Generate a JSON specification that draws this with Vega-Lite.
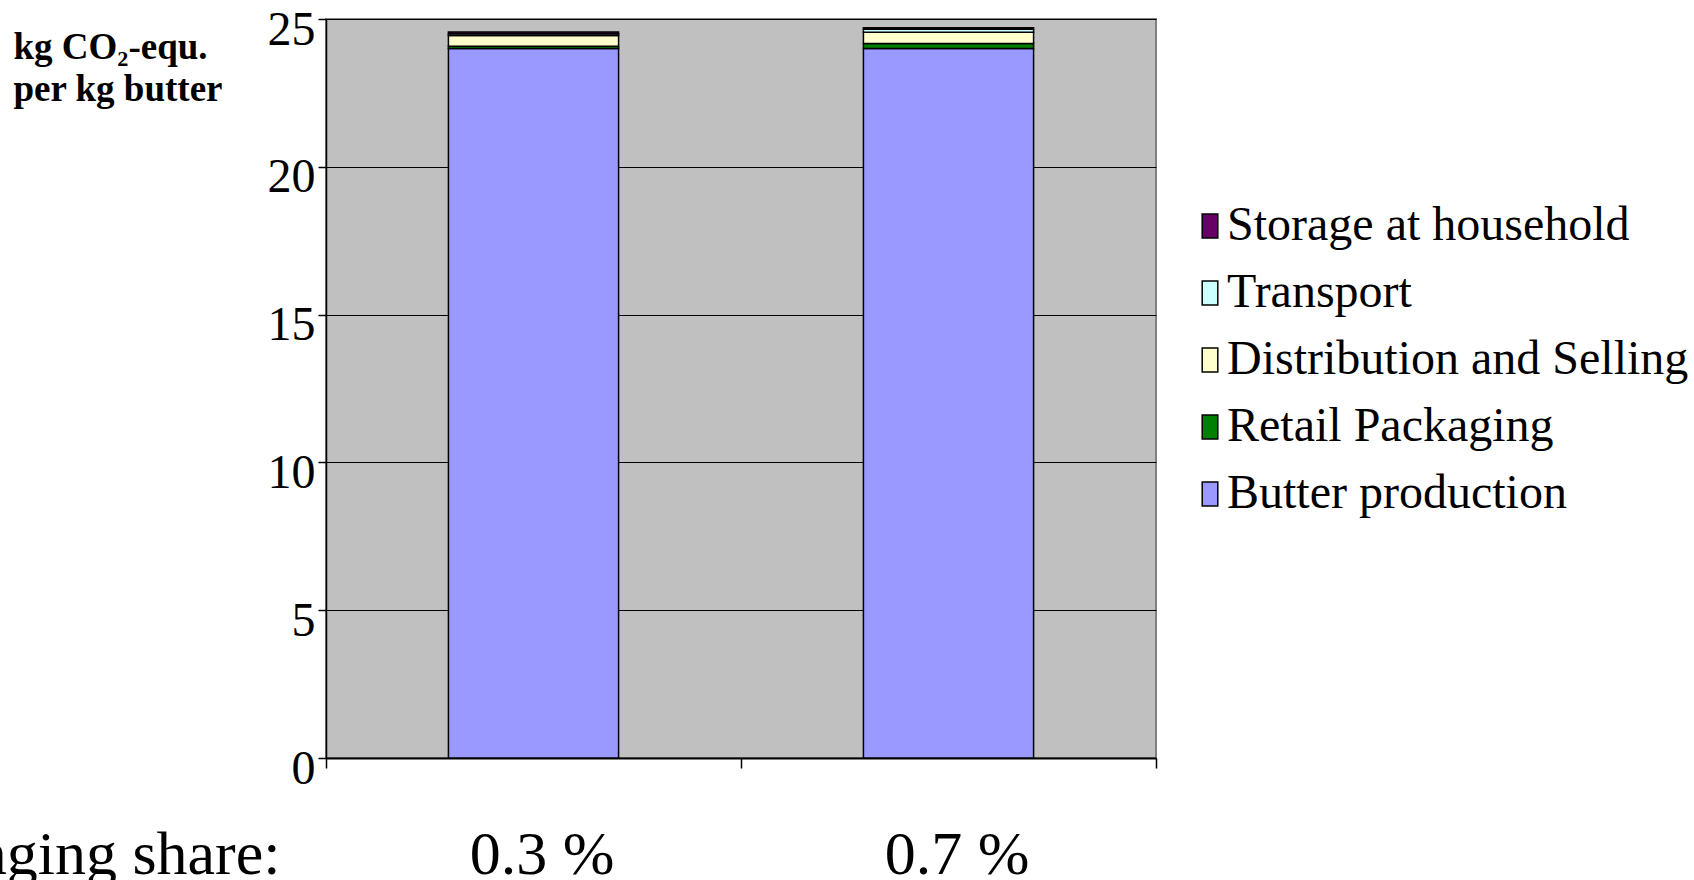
{
  "$schema": "https://vega.github.io/schema/vega-lite/v6.json",
  "autosize": "none",
  "padding": {"left": 326, "top": 19, "right": 538, "bottom": 122},
  "width": 830,
  "height": 739,
  "background": "white",
  "config": {
    "view": {"fill": "#C0C0C0", "stroke": "#808080", "strokeWidth": 2},
    "font": "Liberation Serif"
  },
  "data": {
    "values": [
      {"share": "0.3 %", "stage": 1, "component": "Butter production", "value": 24.0},
      {"share": "0.3 %", "stage": 2, "component": "Retail Packaging", "value": 0.074},
      {"share": "0.3 %", "stage": 3, "component": "Distribution and Selling", "value": 0.37},
      {"share": "0.3 %", "stage": 4, "component": "Transport", "value": 0.06},
      {"share": "0.3 %", "stage": 5, "component": "Storage at household", "value": 0.06},
      {"share": "0.7 %", "stage": 1, "component": "Butter production", "value": 24.0},
      {"share": "0.7 %", "stage": 2, "component": "Retail Packaging", "value": 0.17},
      {"share": "0.7 %", "stage": 3, "component": "Distribution and Selling", "value": 0.38},
      {"share": "0.7 %", "stage": 4, "component": "Transport", "value": 0.1},
      {"share": "0.7 %", "stage": 5, "component": "Storage at household", "value": 0.05}
    ]
  },
  "mark": {"type": "bar", "stroke": "black", "strokeWidth": 1.5, "width": {"band": 0.41}, "opacity": 1},
  "encoding": {
    "x": {
      "field": "share",
      "type": "nominal",
      "sort": ["0.3 %", "0.7 %"],
      "scale": {"paddingInner": 0, "paddingOuter": 0},
      "axis": {
        "title": "Packaging share:",
        "titleFont": "Liberation Serif",
        "titleFontSize": 62,
        "titleFontWeight": "normal",
        "titleColor": "black",
        "titleAlign": "right",
        "titleBaseline": "alphabetic",
        "titleX": -46,
        "titleY": 115,
        "tickBand": "extent",
        "labelAngle": 0,
        "labelFont": "Liberation Serif",
        "labelFontSize": 62,
        "labelColor": "black",
        "labelBaseline": "alphabetic",
        "labelPadding": 105,
        "labelOffset": 8,
        "tickSize": 10,
        "tickColor": "black",
        "tickWidth": 1.5,
        "domainColor": "black",
        "domainWidth": 2,
        "grid": false
      }
    },
    "y": {
      "field": "value",
      "type": "quantitative",
      "stack": "zero",
      "scale": {"domain": [0, 25], "nice": false},
      "axis": {
        "title": ["kg CO₂-equ.", "per kg butter"],
        "titleFont": "Liberation Serif",
        "titleFontSize": 37,
        "titleFontWeight": "bold",
        "titleColor": "black",
        "titleAngle": 0,
        "titleAlign": "left",
        "titleBaseline": "alphabetic",
        "titleX": -313,
        "titleY": 39,
        "titleLineHeight": 42,
        "values": [0, 5, 10, 15, 20, 25],
        "labelFont": "Liberation Serif",
        "labelFontSize": 48,
        "labelColor": "black",
        "labelPadding": 3,
        "labelOffset": 11,
        "tickSize": 8,
        "tickColor": "black",
        "tickWidth": 1.5,
        "domainColor": "black",
        "domainWidth": 1.5,
        "grid": true,
        "gridColor": "black",
        "gridWidth": 1
      }
    },
    "color": {
      "field": "component",
      "type": "nominal",
      "scale": {
        "domain": ["Storage at household", "Transport", "Distribution and Selling", "Retail Packaging", "Butter production"],
        "range": ["#660066", "#CCFFFF", "#FFFFCC", "#008000", "#9999FF"]
      },
      "legend": {
        "title": null,
        "orient": "none",
        "legendX": 860,
        "legendY": 183,
        "padding": 0,
        "labelFont": "Liberation Serif",
        "labelFontSize": 48,
        "labelColor": "black",
        "labelOffset": -7,
        "labelLimit": 600,
        "rowPadding": 19,
        "symbolType": "M-0.65,-1L0.65,-1L0.65,1L-0.65,1Z",
        "symbolSize": 576,
        "symbolStrokeColor": "black",
        "symbolStrokeWidth": 1.5,
        "symbolOpacity": 1
      }
    },
    "order": {"field": "stage", "type": "quantitative", "sort": "ascending"}
  }
}
